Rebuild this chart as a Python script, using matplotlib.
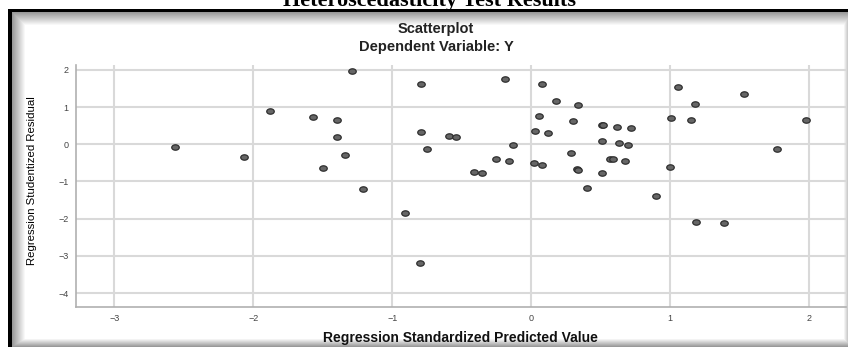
import matplotlib
matplotlib.use("Agg")
import matplotlib.pyplot as plt
from matplotlib import font_manager
from matplotlib.path import Path
import numpy as np

# standardized predicted value (x) and studentized residual (y)
pred = [-2.56, -2.07, -1.88, -1.29, -1.57, -1.40, -1.40, -1.34, -1.50, -1.21,
        -0.91, -0.80, -0.79, -0.79, -0.75, -0.59, -0.54, -0.41, -0.35, -0.25,
        -0.19, -0.16, -0.13, 0.02, 0.03, 0.06, 0.08, 0.08, 0.12, 0.18,
        0.29, 0.30, 0.33, 0.34, 0.34, 0.40, 0.51, 0.51, 0.51, 0.52,
        0.57, 0.59, 0.62, 0.63, 0.68, 0.70, 0.72, 0.90, 1.00, 1.01,
        1.06, 1.15, 1.18, 1.19, 1.39, 1.53, 1.77, 1.98]
resid = [-0.08, -0.35, 0.90, 1.97, 0.74, 0.64, 0.20, -0.28, -0.63, -1.20,
         -1.85, -3.19, 1.61, 0.32, -0.14, 0.23, 0.20, -0.75, -0.76, -0.40,
         1.75, -0.44, -0.02, -0.51, 0.35, 0.75, 1.62, -0.57, 0.29, 1.16,
         -0.24, 0.63, -0.67, -0.69, 1.06, -1.18, 0.52, 0.09, -0.78, 0.52,
         -0.39, -0.39, 0.46, 0.04, -0.45, -0.01, 0.43, -1.40, -0.60, 0.70,
         1.53, 0.65, 1.07, -2.10, -2.12, 1.35, -0.12, 0.66]

xticks = [-3, -2, -1, 0, 1, 2]
yticks = [-4, -3, -2, -1, 0, 1, 2]

W, H = 848, 347
fig = plt.figure(figsize=(W / 100, H / 100), dpi=100)

# background: black frame lines and the grey inner shadow of the panel
bg = np.ones((H, W))
bg[9:12, 8:] = 0
bg[9:, 8:12] = 0
for i in range(14):
    v = 0.6 + 0.4 * i / 13
    bg[12 + i, 12 + i:] = np.minimum(bg[12 + i, 12 + i:], v)
    bg[12 + i:, 12 + i] = np.minimum(bg[12 + i:, 12 + i], v)
for i in range(9):
    v = 0.6 + 0.4 * i / 8
    bg[H - 1 - i, 12:] = np.minimum(bg[H - 1 - i, 12:], v)
for i in range(5):
    v = 0.8 + 0.2 * i / 4
    bg[12:, W - 1 - i] = np.minimum(bg[12:, W - 1 - i], v)
bax = fig.add_axes([0, 0, 1, 1], zorder=-5)
bax.imshow(bg, cmap='gray', vmin=0, vmax=1, aspect='auto', interpolation='nearest')
bax.axis('off')

fig.text(0.507, 1 - 6 / H, 'Heteroscedasticity Test Results', family='Liberation Serif',
         weight='bold', fontsize=16, ha='center', va='baseline')
fig.text(436 / W, 1 - 29 / H, 'Scatterplot', family='Liberation Sans', weight='bold',
         fontsize=10.5, ha='center', va='center', color='#222222')
fig.text(436 / W, 1 - 47 / H, 'Dependent Variable: Y', family='Liberation Sans', weight='bold',
         fontsize=10.5, ha='center', va='center', color='#222222')

ax = fig.add_axes([75.5 / W, 1 - 306.7 / H, (846 - 75.5) / W, (306.7 - 65) / H])
ax.patch.set_alpha(0)

# slightly flattened circle markers as in the original export
t = np.linspace(0, 2 * np.pi, 40)
ell = Path(np.column_stack([np.cos(t), 0.72 * np.sin(t)]), closed=True)
ax.plot(pred, resid, linestyle='none', marker=ell, markersize=5.4,
        markerfacecolor='#666666', markeredgecolor='#2e2e2e', markeredgewidth=0.9, zorder=3)

ax.set_xlim(-3.28, 2.268)
ax.set_ylim(-4.366, 2.13)
ax.set_xticks(xticks)
ax.set_yticks(yticks)
ax.grid(True, color='#d9d9d9', linewidth=1.5)
ax.set_axisbelow(True)
for s in ['top', 'right']:
    ax.spines[s].set_visible(False)
for s in ['left', 'bottom']:
    ax.spines[s].set_color('#b0b0b0')
    ax.spines[s].set_linewidth(1.2)
ax.tick_params(length=0, labelsize=6.5, labelcolor='#444444', pad=5)
for lab in ax.get_xticklabels() + ax.get_yticklabels():
    lab.set_family('Liberation Sans')

ax.set_xlabel('Regression Standardized Predicted Value', family='Liberation Sans',
              weight='bold', fontsize=10, labelpad=6, color='#111111')

narrow = 'Narrow' in font_manager.findfont('Liberation Sans Narrow', fallback_to_default=True)
if narrow:
    ax.set_ylabel('Regression Studentized Residual', family='Liberation Sans Narrow', fontsize=10)
else:
    ax.set_ylabel('Regression Studentized Residual', family='Liberation Sans', fontsize=8.2)
ax.yaxis.set_label_coords((37.5 - 75.5) / (846 - 75.5), 0.52)

fig.savefig('out.png', dpi=100)
